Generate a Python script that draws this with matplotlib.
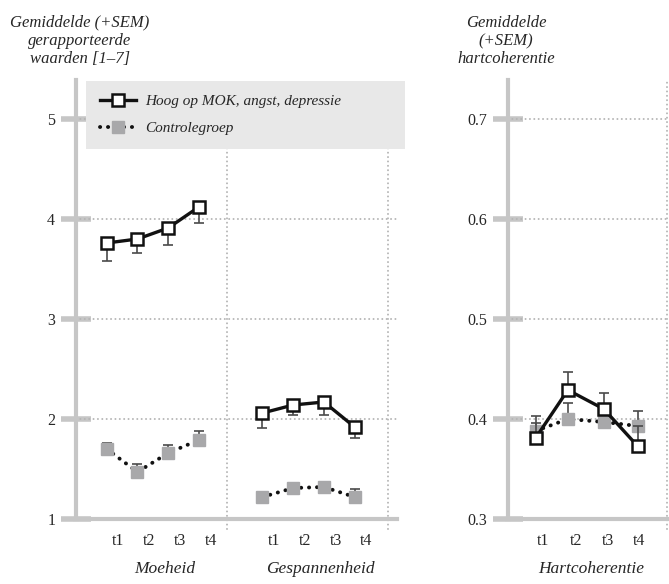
import numpy as np
import matplotlib.pyplot as plt
from matplotlib.lines import Line2D

# values
time_labels = ['t1', 't2', 't3', 't4']
groups = ['Moeheid', 'Gespannenheid']

moe_high = [3.76, 3.80, 3.91, 4.12]
moe_high_sem = [0.18, 0.14, 0.17, 0.16]
moe_ctrl = [1.70, 1.47, 1.66, 1.79]
moe_ctrl_sem = [0.06, 0.08, 0.08, 0.09]

spa_high = [2.06, 2.14, 2.17, 1.92]
spa_high_sem = [0.15, 0.10, 0.13, 0.11]
spa_ctrl = [1.22, 1.31, 1.32, 1.22]
spa_ctrl_sem = [0.03, 0.05, 0.03, 0.08]

hart_high = [0.381, 0.429, 0.410, 0.373]
hart_high_sem = [0.015, 0.018, 0.016, 0.02]
hart_ctrl = [0.388, 0.400, 0.397, 0.393]
hart_ctrl_sem = [0.015, 0.016, 0.010, 0.015]

left_yticks = [1, 2, 3, 4, 5]
right_yticks = [0.3, 0.4, 0.5, 0.6, 0.7]

label_high = 'Hoog op MOK, angst, depressie'
label_ctrl = 'Controlegroep'

plt.rcParams['font.family'] = ['Liberation Serif', 'DejaVu Serif']

W, H = 669, 584
fig = plt.figure(figsize=(W / 100, H / 100), dpi=100)

SPINE = '#c6c6c6'
GRID = '#b4b4b4'
CTRL = '#a8a8aa'
ERR = '#4a4a4a'
TXT = '#262626'
DOTS = (0, (0.05, 2.0))
MS = 9


def px_axes(x0, x1, ytop, ybot):
    return fig.add_axes([x0 / W, (H - ybot) / H, (x1 - x0) / W, (ybot - ytop) / H])


def style(ax, ticks, fmt):
    for s in ['top', 'right']:
        ax.spines[s].set_visible(False)
    for s in ['left', 'bottom']:
        ax.spines[s].set_color(SPINE)
        ax.spines[s].set_linewidth(3)
    ax.set_yticks(ticks)
    ax.set_yticklabels([fmt(t) for t in ticks], fontsize=11.5, color=TXT)
    ax.tick_params(axis='y', direction='inout', length=22, width=4, color=SPINE, pad=4)
    ax.tick_params(axis='x', length=0, pad=10, labelsize=11.5, labelcolor=TXT)
    for t in ticks[1:]:
        ax.axhline(t, color=GRID, lw=1.4, ls=(0, (0.05, 2.2)),
                   dash_capstyle='round', zorder=2)


def draw(ax, x, high, high_sem, ctrl, ctrl_sem, high_down):
    z = np.zeros(len(x))
    ax.errorbar(x, ctrl, yerr=[z, ctrl_sem], fmt='none', ecolor=ERR, elinewidth=1.2,
                capsize=3.5, capthick=1.2, zorder=3)
    ax.plot(x, ctrl, ls=DOTS, color='#111111', lw=2.8, dash_capstyle='round',
            marker='s', ms=MS, mfc=CTRL, mec=CTRL, zorder=4)
    err = [high_sem, z] if high_down else [z, high_sem]
    ax.errorbar(x, high, yerr=err, fmt='none', ecolor=ERR, elinewidth=1.2,
                capsize=3.5, capthick=1.2, zorder=5)
    ax.plot(x, high, ls='-', color='#111111', lw=2.4,
            marker='s', ms=MS, mfc='white', mec='#111111', mew=1.8, zorder=6)


# left panel: Moeheid + Gespannenheid
ax1 = px_axes(76, 397, 80, 519)
ax1.set_xlim(0, 10.45)
ax1.set_ylim(1, 5.39)
style(ax1, left_yticks, lambda v: f'{v:d}')
x_moe = np.arange(1, 5)
x_spa = np.arange(6, 10) + 0.07
draw(ax1, x_moe, moe_high, moe_high_sem, moe_ctrl, moe_ctrl_sem, True)
draw(ax1, x_spa, spa_high, spa_high_sem, spa_ctrl, spa_ctrl_sem, True)
ax1.set_xticks(list(x_moe + 0.38) + list(x_spa + 0.38))
ax1.set_xticklabels(time_labels * 2)
for xv in [4.92, 10.16]:
    ax1.axvline(xv, ymin=-0.023, ymax=1, color=GRID, lw=1.4, ls=(0, (0.05, 2.2)),
                dash_capstyle='round', zorder=2, clip_on=False)
for name, xs in zip(groups, [x_moe, x_spa]):
    ax1.text(np.mean(xs) + 0.38, -0.115, name, transform=ax1.get_xaxis_transform(),
             ha='center', va='center', style='italic', fontsize=12.5, color=TXT)

# right panel: Hartcoherentie
ax2 = px_axes(508, 667, 80, 519)
ax2.set_xlim(0, 5.18)
ax2.set_ylim(0.3, 0.739)
style(ax2, right_yticks, lambda v: f'{v:.1f}')
x_hart = np.array([0.9, 1.95, 3.12, 4.22])
draw(ax2, x_hart, hart_high, hart_high_sem, hart_ctrl, hart_ctrl_sem, False)
ax2.set_xticks([1.15, 2.2, 3.25, 4.28])
ax2.set_xticklabels(time_labels)
ax2.axvline(5.18, ymin=-0.023, ymax=1, color=GRID, lw=1.4, ls=(0, (0.05, 2.2)),
            dash_capstyle='round', zorder=2, clip_on=False)
ax2.text(2.7, -0.115, 'Hartcoherentie', transform=ax2.get_xaxis_transform(),
         ha='center', va='center', style='italic', fontsize=12.5, color=TXT)

# titles
fig.text(80 / W, 1 - 41 / H, 'Gemiddelde (+SEM)\ngerapporteerde\nwaarden [1–7]',
         ha='center', va='center', style='italic', fontsize=12, color=TXT,
         linespacing=1.2)
fig.text(506 / W, 1 - 41 / H, 'Gemiddelde\n(+SEM)\nhartcoherentie',
         ha='center', va='center', style='italic', fontsize=12, color=TXT,
         linespacing=1.2)

# legend
handles = [
    Line2D([], [], color='#111111', lw=2.4, marker='s', ms=MS, mfc='white',
           mec='#111111', mew=1.8),
    Line2D([], [], color='#111111', lw=2.8, ls=DOTS, dash_capstyle='round',
           marker='s', ms=MS, mfc=CTRL, mec=CTRL),
]
leg = fig.legend(handles, [label_high, label_ctrl], loc='upper left',
                 bbox_to_anchor=(86 / W, 1 - 156 / H, (405 - 86) / W, 75 / H),
                 mode='expand', borderaxespad=0, frameon=True, fancybox=False,
                 facecolor='#e8e8e8', edgecolor='none', framealpha=1,
                 handlelength=2.4, handletextpad=0.6, labelspacing=0.85,
                 borderpad=0.9, prop={'style': 'italic', 'size': 11})
for t in leg.get_texts():
    t.set_color(TXT)

fig.savefig('out.png', dpi=100)
